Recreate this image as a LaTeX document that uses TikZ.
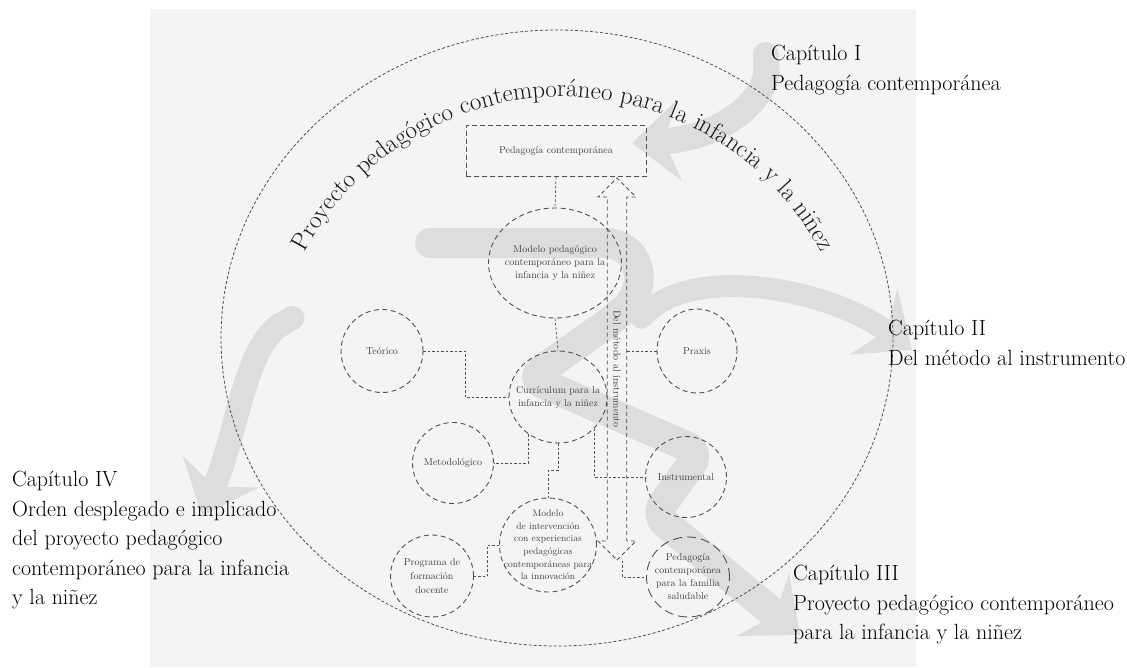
\documentclass[tikz,border=0pt]{standalone}
\usetikzlibrary{shapes.geometric,shapes.arrows,arrows.meta,decorations.text,calc}
\definecolor{panel}{RGB}{243,244,244}
\definecolor{sweep}{RGB}{220,221,221}
\definecolor{ink}{RGB}{80,80,80}
\definecolor{nodetext}{RGB}{65,65,65}
\definecolor{titleink}{RGB}{25,25,25}
\begin{document}
\begin{tikzpicture}[x=1pt,y=1pt,
  sweeparrow/.style={draw=sweep, line width=#1, line cap=butt, line join=round,
    arrows={Round Cap[]-Stealth[length=48pt 0, width=82pt 0, inset=16pt 0, line width=0pt 0]}},
  frame/.style={draw=ink, line width=0.8pt, dash pattern=on 3pt off 2pt},
  bubble/.style={ellipse, draw=ink, line width=0.9pt, dash pattern=on 5pt off 3.5pt,
    inner sep=-15pt, align=center, font=\fontsize{10}{13}\selectfont, text=nodetext},
  link/.style={draw=ink, line width=0.7pt, dash pattern=on 2.5pt off 2pt},
  chapter/.style={anchor=north west, inner sep=0pt, align=left,
    font=\fontsize{22}{29.6}\selectfont, text=black}]

\useasboundingbox (0,0) rectangle (1127,-667);
\fill[white] (0,0) rectangle (1127,-667);
\fill[panel] (150,-9) rectangle (916,-667);

% broad grey sweeps leading to the four chapters
\draw[sweeparrow=26] (765,-42) .. controls (768,-100) and (720,-138) .. (632,-143);
\draw[sweeparrow=22] (633,-325) .. controls (700,-265) and (830,-290) .. (912,-350);
\draw[sweeparrow=24] (303,-312) .. controls (245,-345) and (238,-430) .. (202,-516);
\draw[sweeparrow=30, rounded corners=14pt] (415,-243) -- (590,-243)
  .. controls (640,-243) and (650,-285) .. (615,-318) -- (530,-378) -- (700,-452)
  -- (655,-515) -- (800,-635);

% outer boundary and curved title
\draw[frame] (557,-338) ellipse[x radius=336pt, y radius=308pt];
\path[decorate, decoration={text along path, text align=center, text color=titleink,
  text={|\fontsize{25}{25}\selectfont|Proyecto pedagógico contemporáneo para la infancia y la niñez}}]
  (563,-389) ++(165:292pt) arc[start angle=165, end angle=15, radius=292pt];

% concept nodes
\node[draw=ink, line width=0.9pt, dash pattern=on 5pt off 3pt, minimum width=180pt,
  minimum height=51pt, inner sep=0pt, font=\fontsize{10}{12}\selectfont, text=nodetext]
  (box) at (556,-151) {Pedagogía contemporánea};
\node[bubble, minimum width=133pt, minimum height=110pt] (mod) at (555,-263)
  {Modelo pedagógico\\contemporáneo para la\\infancia y la niñez};
\node[bubble, minimum width=82pt, minimum height=83pt] (teo) at (382,-351) {Teórico};
\node[bubble, minimum width=98pt, minimum height=92pt] (cur) at (558,-397)
  {Currículum para la\\infancia y la niñez};
\node[bubble, minimum width=80pt, minimum height=84pt] (prax) at (697,-351) {Praxis};
\node[bubble, minimum width=81pt, minimum height=81pt] (met) at (453,-463) {Metodológico};
\node[bubble, minimum width=81pt, minimum height=81pt] (ins) at (686,-477) {Instrumental};
\node[bubble, minimum width=97pt, minimum height=94pt, font=\fontsize{9.5}{12.6}\selectfont]
  (int) at (548,-545)
  {Modelo\\de intervención\\con experiencias\\pedagógicas\\contemporáneas para\\la innovación};
\node[bubble, minimum width=83pt, minimum height=82pt, font=\fontsize{10}{14}\selectfont]
  (pro) at (432,-576) {Programa de\\formación\\docente};
\node[bubble, minimum width=83pt, minimum height=80pt, dash pattern=on 9pt off 5pt]
  (fam) at (688,-577) {Pedagogía\\contemporánea\\para la familia\\saludable};
\node[double arrow, draw=ink, line width=0.9pt, dash pattern=on 4pt off 3pt, rotate=-90,
  minimum height=382pt, minimum width=38pt, double arrow head extend=8.5pt,
  inner xsep=0pt, inner ysep=5pt, font=\fontsize{10}{12}\selectfont, text=nodetext]
  (dma) at (617,-369) {Del método al instrumento};

% connectors
\draw[link] (box.south) -- (mod.north);
\draw[link] (mod.south) -- (cur.north);
\draw[link] (teo.east) -- ++(42,0) |- (cur.west);
\draw[link] (cur.-128) |- (met.east);
\draw[link] (cur.south) -- ++(0,-27) -| (int.north);
\draw[link] (cur.-41) |- (ins.west);
\draw[link] (int.west) -- ++(-12,0) |- (pro.east);
\draw[link] (prax.west) -- (prax.west -| dma.north);
\draw[link] ($(dma.east)+(5,0)$) |- (fam.west);

% chapter captions
\node[chapter] (c1) at (771,-45) {Capítulo I\\Pedagogía contemporánea};
\node[chapter] (c2) at (888,-320) {Capítulo II\\Del método al instrumento};
\node[chapter] (c3) at (793,-565) {Capítulo III\\Proyecto pedagógico contemporáneo\\para la infancia y la niñez};
\node[chapter] (c4) at (12,-471) {Capítulo IV\\Orden desplegado e implicado\\del proyecto pedagógico\\contemporáneo para la infancia\\y la niñez};
\end{tikzpicture}
\end{document}
